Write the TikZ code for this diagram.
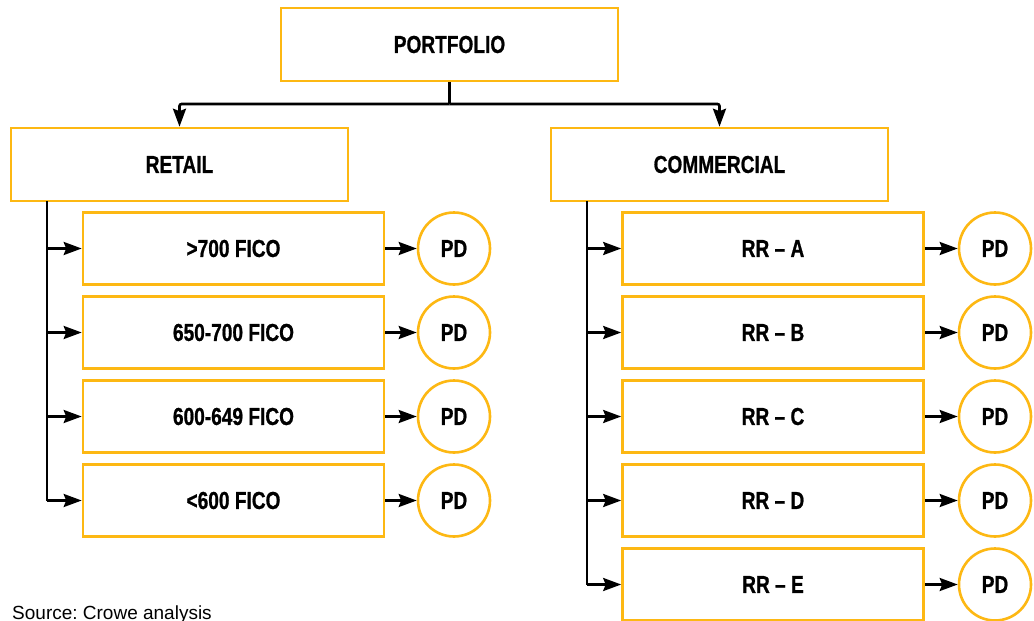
\documentclass[tikz,border=0pt]{standalone}
\usepackage{fontspec}
\setmainfont{Liberation Sans}
\newfontfamily\condb[FakeStretch=0.78,FakeBold=0.8]{Liberation Sans}
\usetikzlibrary{arrows.meta}
\definecolor{gold}{RGB}{253,184,19}
\tikzset{
  box/.style={draw=gold, line width=2.6pt, rectangle, inner sep=0pt, fill=white,
    font=\condb\bfseries\fontsize{24.5}{28}\selectfont},
  catbox/.style={box, minimum width=337pt, minimum height=73pt},
  subbox/.style={box, minimum width=301pt, minimum height=72pt},
  pd/.style={box, circle, minimum size=72pt},
  conn/.style={draw=black, line width=2.6pt},
  arr/.style={conn, -{Stealth[length=18pt,width=13pt,inset=2.5pt]}},
}
\begin{document}
\begin{tikzpicture}[x=1pt,y=-1pt]
\useasboundingbox (0,0) rectangle (1034,621);
\clip (0,0) rectangle (1034,621);
\fill[white] (0,0) rectangle (1034,621);

\node[catbox] (port) at (449.5,44.5) {PORTFOLIO};
\node[catbox] (retail) at (179.5,164.5) {RETAIL};
\node[catbox] (comm) at (719.5,164.5) {COMMERCIAL};

\draw[conn] (port.south) -- (449.5,104) coordinate (bus);
\draw[arr, rounded corners=2pt] (bus) -| (retail.north);
\draw[arr, rounded corners=2pt] (bus) -| (comm.north);

% retail children
\node[subbox] (r1) at (233.5,248.5) {>700 FICO};
\node[subbox] (r2) at (233.5,332.5) {650-700 FICO};
\node[subbox] (r3) at (233.5,416.5) {600-649 FICO};
\node[subbox] (r4) at (233.5,500.5) {<600 FICO};
\foreach \i in {1,2,3,4}{
  \node[pd] (rp\i) at (454,{248.5+84*(\i-1)}) {PD};
  \draw[arr] (r\i.east) -- (rp\i.west);
}
\coordinate (rt) at (47,201);
\draw[conn] (rt) -- (rt |- r4.west);
\foreach \i in {1,2,3,4}{
  \draw[arr] (rt |- r\i.west) -- (r\i.west);
}

% commercial children
\node[subbox] (c1) at (773,248.5) {RR – A};
\node[subbox] (c2) at (773,332.5) {RR – B};
\node[subbox] (c3) at (773,416.5) {RR – C};
\node[subbox] (c4) at (773,500.5) {RR – D};
\node[subbox] (c5) at (773,584.5) {RR – E};
\foreach \i in {1,2,3,4,5}{
  \node[pd] (cp\i) at (995,{248.5+84*(\i-1)}) {PD};
  \draw[arr] (c\i.east) -- (cp\i.west);
}
\coordinate (ct) at (587,201);
\draw[conn] (ct) -- (ct |- c5.west);
\foreach \i in {1,2,3,4,5}{
  \draw[arr] (ct |- c\i.west) -- (c\i.west);
}

\node[anchor=base west, inner sep=0pt, font=\fontsize{19}{22}\selectfont] (src) at (12,619) {Source:\ Crowe analysis};
\end{tikzpicture}
\end{document}
